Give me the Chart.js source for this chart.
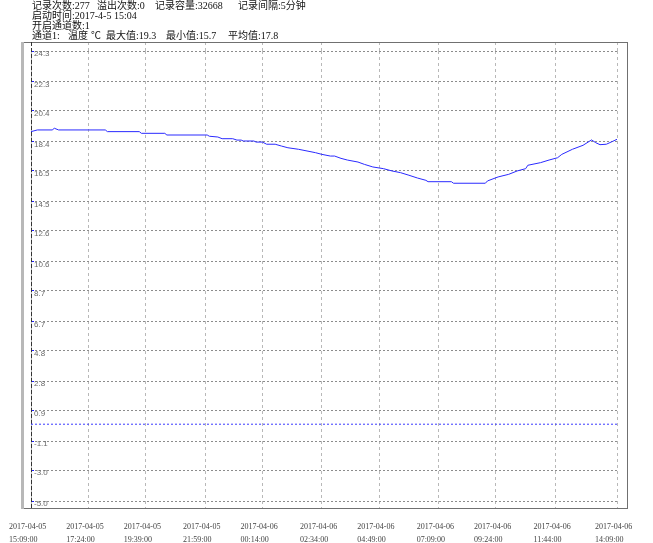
<!DOCTYPE html>
<html>
<head>
<meta charset="utf-8">
<script src="https://cdn.jsdelivr.net/npm/chart.js@4.4.0/dist/chart.umd.min.js"></script>
<style>
    html, body { margin: 0; padding: 0; background: #fff; overflow: hidden; }
    #wrap { position: relative; width: 653px; height: 543px; }
    #myChart { position: absolute; left: 0; top: 0; }
    .hd { position: absolute; font-size: 10px; font-family: "Liberation Serif", "Noto Sans CJK SC", serif; color: #111; white-space: pre; line-height: 10px; }
</style>
</head>
<body>
<div id="wrap">
    <canvas id="myChart" width="653" height="543"></canvas>
    <div class="hd" style="left:32px;top:1px">记录次数:277</div>
    <div class="hd" style="left:97px;top:1px">溢出次数:0</div>
    <div class="hd" style="left:155px;top:1px">记录容量:32668</div>
    <div class="hd" style="left:238px;top:1px">记录间隔:5分钟</div>
    <div class="hd" style="left:32px;top:11px">启动时间:2017-4-5 15:04</div>
    <div class="hd" style="left:32px;top:21px">开启通道数:1</div>
    <div class="hd" style="left:32px;top:31px">通道1:</div>
    <div class="hd" style="left:68px;top:31px">温度</div>
    <div class="hd" style="left:91px;top:31px">℃</div>
    <div class="hd" style="left:106px;top:31px">最大值:19.3</div>
    <div class="hd" style="left:166px;top:31px">最小值:15.7</div>
    <div class="hd" style="left:228px;top:31px">平均值:17.8</div>
</div>
<script>
// record index of each x label (5 minute interval, 277 records)
const tickIdx = [0, 27, 54, 82, 109, 137, 164, 192, 219, 247, 276];
const tickDates = ['2017-04-05', '2017-04-05', '2017-04-05', '2017-04-05', '2017-04-06', '2017-04-06',
    '2017-04-06', '2017-04-06', '2017-04-06', '2017-04-06', '2017-04-06'];
const tickTimes = ['15:09:00', '17:24:00', '19:39:00', '21:59:00', '00:14:00', '02:34:00',
    '04:49:00', '07:09:00', '09:24:00', '11:44:00', '14:09:00'];

const yTickLabels = ['24.3', '22.3', '20.4', '18.4', '16.5', '14.5', '12.6', '10.6',
    '8.7', '6.7', '4.8', '2.8', '0.9', '-1.1', '-3.0', '-5.0'];

// temperature readings (record index -> °C)
const sampleIdx = [0, 3, 10, 11, 13, 35, 36, 51, 52, 63, 64, 83, 84, 88, 90, 95, 97, 99, 100, 105,
    106, 109, 111, 115, 118, 121, 126, 130, 134, 137, 141, 143, 146, 149, 154, 157, 161, 166, 170, 174,
    178, 182, 186, 187, 198, 199, 214, 215, 220, 225, 229, 233, 234, 240, 244, 248, 250, 255, 260, 264,
    266, 268, 271, 274, 276];
const tempC = [19.05, 19.16, 19.16, 19.27, 19.16, 19.16, 19.05, 19.05, 18.94, 18.94, 18.83, 18.83, 18.75, 18.70, 18.59, 18.59, 18.50, 18.50, 18.44, 18.44,
    18.37, 18.37, 18.23, 18.23, 18.11, 18.00, 17.90, 17.79, 17.68, 17.57, 17.46, 17.46, 17.31, 17.20, 17.07, 16.92, 16.75, 16.64, 16.49, 16.38,
    16.21, 16.03, 15.88, 15.79, 15.79, 15.69, 15.69, 15.84, 16.10, 16.27, 16.49, 16.64, 16.86, 17.03, 17.20, 17.35, 17.57, 17.90, 18.16, 18.51,
    18.33, 18.20, 18.23, 18.42, 18.55];

const zeroLevel = 0;

const tempPoints = sampleIdx.map((v, i) => ({ x: v, y: tempC[i] }));
const zeroPoints = [
    { x: tickIdx[0], y: zeroLevel },
    { x: tickIdx[tickIdx.length - 1], y: zeroLevel }
];

const setXTicks = (s) => { s.ticks = tickIdx.map(v => ({ value: v })); };
const noPad = (s) => { s.paddingLeft = 0; s.paddingRight = 0; s.paddingTop = 0; s.paddingBottom = 0; };

// grey frame + dashed left axis line
const framePlugin = {
    id: 'frame',
    beforeDatasetsDraw(chart) {
        const { ctx, chartArea: a } = chart;
        const l = a.left - 8, r = a.right + 10, t = a.top - 9, b = a.bottom + 7;
        ctx.save();
        ctx.strokeStyle = '#707070';
        ctx.lineWidth = 1;
        ctx.strokeRect(l + 0.5, t + 0.5, r - l, b - t);
        ctx.strokeStyle = '#b8b8b8';
        ctx.lineWidth = 3;
        ctx.beginPath();
        ctx.moveTo(l - 0.5, t);
        ctx.lineTo(l - 0.5, b + 1);
        ctx.stroke();
        ctx.strokeStyle = '#333';
        ctx.lineWidth = 1;
        ctx.setLineDash([4, 2]);
        ctx.beginPath();
        ctx.moveTo(a.left + 0.5, t);
        ctx.lineTo(a.left + 0.5, b);
        ctx.stroke();
        ctx.restore();
    }
};

const ctx = document.getElementById('myChart').getContext('2d');
const myChart = new Chart(ctx, { //eslint-disable-line
    type: 'line',
    data: {
        datasets: [{
            label: '温度',
            data: tempPoints,
            borderColor: '#2a2aff',
            borderWidth: 1,
            pointRadius: 0,
            tension: 0
        }, {
            label: '0',
            data: zeroPoints,
            borderColor: '#3a3aff',
            borderWidth: 1,
            borderDash: [2, 2],
            pointRadius: 0
        }]
    },
    options: {
        responsive: false,
        animation: false,
        events: [],
        layout: { padding: { left: 31, right: 36, top: 42, bottom: 0 } },
        plugins: {
            legend: { display: false },
            tooltip: { enabled: false }
        },
        scales: {
            x: {
                type: 'linear',
                position: 'bottom',
                min: 0,
                max: 276,
                afterBuildTicks: setXTicks,
                afterFit: (s) => { s.height = 42; noPad(s); },
                border: { display: false, dash: [3, 3] },
                grid: {
                    color: '#b8b8b8',
                    tickLength: 7,
                    tickColor: '#b8b8b8',
                    tickBorderDash: [3, 3]
                },
                ticks: {
                    autoSkip: false,
                    maxRotation: 0,
                    align: 'start',
                    labelOffset: -22,
                    padding: 12.5,
                    color: '#444',
                    font: { family: 'Liberation Serif', size: 8, lineHeight: 1.625 },
                    callback: (v, i) => [tickDates[i], tickTimes[i]]
                }
            },
            x2: {
                type: 'linear',
                position: 'top',
                min: 0,
                max: 276,
                afterBuildTicks: setXTicks,
                afterFit: (s) => { s.height = 9; noPad(s); },
                border: { display: false, dash: [3, 3] },
                grid: {
                    drawOnChartArea: false,
                    tickLength: 9,
                    tickColor: '#b8b8b8',
                    tickBorderDash: [3, 3]
                },
                ticks: { display: false }
            },
            y: {
                type: 'linear',
                min: -5,
                max: 24.3,
                afterBuildTicks: (s) => { s.ticks = yTickLabels.map(t => ({ value: parseFloat(t) })); },
                afterFit: (s) => { s.width = 0; noPad(s); },
                border: { display: false, dash: [2, 2] },
                grid: {
                    color: '#8c8c8c',
                    tickLength: -3,
                    tickColor: '#2020ff'
                },
                ticks: {
                    mirror: true,
                    padding: 3,
                    labelOffset: 3,
                    color: '#6a6a6a',
                    font: { family: 'Liberation Sans', size: 8 },
                    callback: (v, i) => yTickLabels[i]
                }
            }
        }
    },
    plugins: [framePlugin]
});
</script>
</body>
</html>
